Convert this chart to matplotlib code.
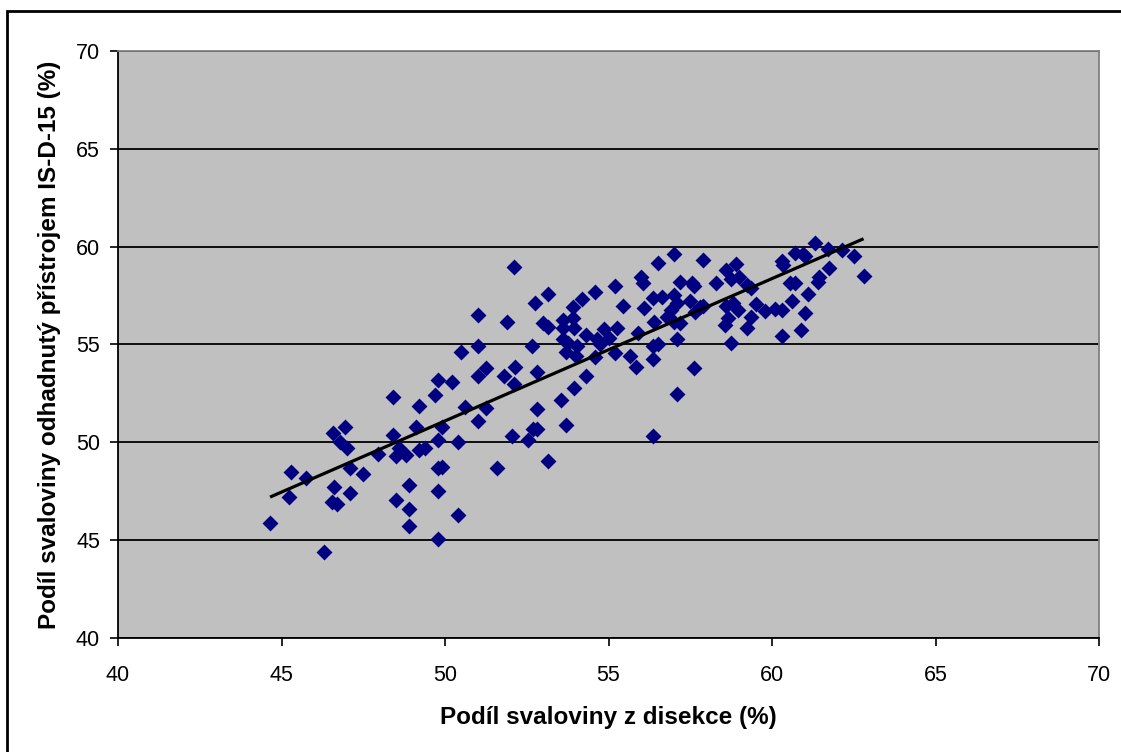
import numpy as np
import matplotlib
matplotlib.use("Agg")
import matplotlib.pyplot as plt
from matplotlib.patches import Rectangle

# Podíl svaloviny: disekce (x) vs. odhad přístrojem IS-D-15 (y)
dissection = [
    44.65, 45.23, 45.3, 45.75, 46.3, 46.57, 46.94, 46.8, 47.0, 46.6,
    47.1, 47.5, 47.1, 46.55, 46.7, 47.95, 48.4, 48.4, 48.6, 48.5,
    48.8, 49.2, 49.4, 49.1, 49.2, 49.7, 49.8, 50.2, 49.9, 49.8,
    50.4, 49.8, 49.9, 50.6, 51.0, 48.9, 48.5, 48.9, 48.9, 49.8,
    49.8, 50.4,
    52.1, 53.15, 52.75, 54.6, 54.2, 53.9, 51.0, 51.9, 53.0, 53.15,
    53.6, 53.9, 53.6, 53.95, 54.3, 53.6, 53.75, 53.7, 54.05, 54.65,
    54.6, 51.0, 50.5, 52.65, 52.15, 51.25, 51.0, 51.8, 52.1, 52.8,
    54.3, 51.25, 53.95, 53.55, 52.8, 53.7, 52.7, 52.8, 52.05, 52.55,
    53.15, 51.6,
    57.0, 56.5, 57.9, 56.0, 56.05, 55.2, 57.2, 57.55, 57.6, 58.6,
    58.9, 58.75, 59.0, 58.3, 59.25, 59.35, 59.5, 55.45, 56.1, 56.35,
    56.65, 57.0, 57.1, 56.9, 56.8, 57.0, 57.2, 57.5, 57.65, 57.8,
    57.9, 58.6, 58.8, 58.95, 58.65, 58.55, 59.35, 59.25, 54.0, 54.75,
    54.85, 55.0, 55.25, 55.2, 55.65, 55.85, 55.9, 56.4, 56.35, 56.5,
    56.35, 57.1, 57.6, 58.75, 57.1, 56.35,
    61.3, 60.7, 60.95, 61.0, 61.7, 62.15, 62.5, 62.8, 61.75, 61.4,
    61.45, 60.3, 60.35, 60.55, 60.7, 61.1, 60.6, 61.0, 59.8, 60.1,
    60.3, 60.3, 60.9,
]
estimate = [
    45.9, 47.2, 48.5, 48.2, 44.4, 50.5, 50.8, 50.0, 49.7, 47.7,
    48.7, 48.4, 47.4, 46.95, 46.85, 49.4, 52.3, 50.4, 49.7, 49.3,
    49.35, 49.6, 49.7, 50.8, 51.85, 52.4, 53.2, 53.1, 50.8, 50.1,
    50.0, 48.7, 48.75, 51.8, 51.1, 47.8, 47.05, 46.6, 45.7, 47.5,
    45.05, 46.3,
    58.95, 57.6, 57.1, 57.7, 57.3, 56.9, 56.5, 56.15, 56.1, 55.9,
    56.25, 56.35, 55.85, 55.85, 55.5, 55.3, 55.1, 54.6, 54.9, 55.3,
    54.35, 54.9, 54.6, 54.9, 53.85, 53.8, 53.4, 53.4, 53.0, 53.6,
    53.4, 51.75, 52.8, 52.15, 51.7, 50.9, 50.7, 50.7, 50.3, 50.1,
    49.05, 48.7,
    59.6, 59.15, 59.3, 58.45, 58.15, 58.0, 58.2, 58.15, 58.0, 58.8,
    59.1, 58.35, 58.45, 58.15, 58.05, 57.9, 57.05, 56.95, 56.85, 57.4,
    57.45, 57.55, 57.1, 56.75, 56.4, 56.15, 56.1, 57.2, 56.65, 56.9,
    56.95, 56.95, 57.1, 56.75, 56.35, 56.0, 56.4, 55.85, 54.4, 55.0,
    55.8, 55.35, 55.85, 54.55, 54.4, 53.85, 55.6, 56.15, 54.9, 55.0,
    54.25, 55.3, 53.8, 55.1, 52.45, 50.3,
    60.2, 59.7, 59.65, 59.5, 59.9, 59.85, 59.5, 58.5, 58.9, 58.2,
    58.45, 59.25, 59.05, 58.15, 58.15, 57.6, 57.2, 56.6, 56.7, 56.8,
    56.75, 55.45, 55.75,
]
x_ticks = [40, 45, 50, 55, 60, 65, 70]
y_ticks = [40, 45, 50, 55, 60, 65, 70]

plt.rcParams["font.family"] = ["Liberation Sans", "DejaVu Sans"]

W, H = 1121, 752
fig = plt.figure(figsize=(W / 100, H / 100), dpi=100)
ax = fig.add_axes([118 / W, 1 - 638 / H, (1099 - 118) / W, (638 - 51) / H])
ax.set_facecolor("#C0C0C0")

x = np.array(dissection)
y = np.array(estimate)
ax.scatter(x, y, marker="D", s=66, color="#000080", linewidths=0, zorder=3)

# linear trend
k, q = np.polyfit(x, y, 1)
xs = np.array([x.min(), x.max()])
ax.plot(xs, k * xs + q, color="black", lw=2.3, zorder=4, solid_capstyle="butt")

ax.set_xlim(40, 70)
ax.set_ylim(40, 70)
ax.set_xticks(x_ticks)
ax.set_yticks(y_ticks)
ax.yaxis.grid(True, color="black", lw=1.3)
ax.set_axisbelow(True)
ax.tick_params(direction="out", length=6, width=1.2, labelsize=15.5, color="black")
ax.tick_params(axis="x", pad=13.5)
ax.tick_params(axis="y", pad=7)

for side in ("left", "bottom"):
    ax.spines[side].set_color("black")
    ax.spines[side].set_linewidth(1.3)
for side in ("top", "right"):
    ax.spines[side].set_color("#808080")
    ax.spines[side].set_linewidth(1.3)

ax.set_xlabel("Podíl svaloviny z disekce (%)", fontsize=17.5, fontweight="bold", labelpad=14)
ax.set_ylabel("Podíl svaloviny odhadnutý přístrojem IS-D-15 (%)", fontsize=17.5,
              fontweight="bold", labelpad=11)

# outer chart frame
fig.patches.append(Rectangle((7 / W, -0.05), 1.1, 1 - 11 / H + 0.05, transform=fig.transFigure,
                             fill=False, edgecolor="black", lw=2))

fig.savefig("out.png", dpi=100)
